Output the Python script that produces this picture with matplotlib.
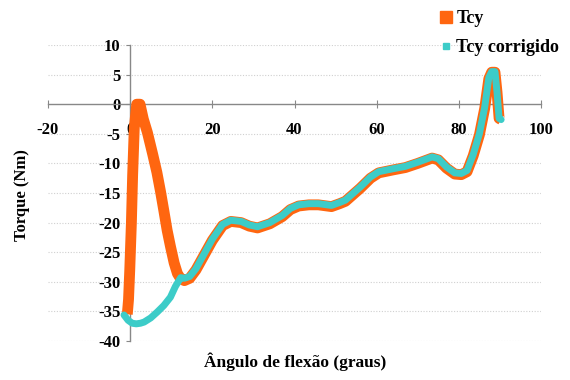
import matplotlib
matplotlib.use("Agg")
import matplotlib.pyplot as plt
from matplotlib.lines import Line2D

# Data
tcy_x = [-0.7, -0.4, -0.1, 0.3, 0.6, 1.0, 1.6, 2.4, 3.2, 4.2, 5.5, 6.5, 7.4, 8.2, 9.0, 9.8, 10.7, 11.5,
         12.3, 13.2, 14.5, 16, 18, 20, 22.5, 24.5, 27, 29, 31, 34, 37, 39, 41, 43.5, 45.8, 49, 51, 52.4,
         56, 58.5, 60.5, 64, 67, 70, 73.5, 75, 77, 79, 80.6, 82, 83.5, 85, 86.3, 87.3, 88, 88.8, 89.3,
         89.8, 90.3]
tcy_y = [-35.5, -33.0, -28.0, -20.0, -12.0, -4.0, 0.0, 0.0, -2.5, -4.8, -8.5, -11.5, -14.8, -18.0, -21.3,
         -24.0, -26.8, -28.6,
         -29.5, -29.8, -29.4, -28.0, -25.5, -23.0, -20.5, -19.8, -20.0, -20.6, -20.9, -20.2, -19.0, -17.8,
         -17.2, -17.0, -17.0, -17.3, -16.8, -16.4, -14.2, -12.5, -11.6, -11.1, -10.7, -10.0, -9.1, -9.4,
         -10.8, -11.8, -11.9, -11.4, -8.7, -5.2, -0.7, 4.3, 5.4, 5.4, 2.0, -2.4, -2.6]

corr_x = [-1.5, -0.5, 0.5, 1.5, 2.5, 3.4, 5.0, 6.6, 8.2, 9.8, 11.0, 12.3, 13.2, 14.5, 16, 18, 20, 22.5,
          24.5, 27, 29, 31, 34, 37, 39, 41, 43.5, 45.8, 49, 51, 52.4, 56, 58.5, 60.5, 64, 67, 70, 73.5,
          75, 77, 79, 80.6, 82, 83.5, 85, 86.3, 87.3, 88, 88.8, 89.3, 89.8, 90.3]
corr_y = [-35.6, -36.5, -37.0, -37.1, -37.0, -36.8, -36.1, -35.1, -34.0, -32.6, -30.8, -29.3, -29.4, -29.1,
          -27.8, -25.3, -22.8, -20.3, -19.6, -19.8, -20.4, -20.7, -20.0, -18.8, -17.6, -17.0, -16.8,
          -16.8, -17.1, -16.6, -16.2, -14.0, -12.3, -11.4, -10.9, -10.5, -9.8, -8.9, -9.2, -10.6, -11.6,
          -11.7, -11.2, -8.5, -5.0, -0.5, 4.5, 5.5, 5.5, 2.0, -2.4, -2.6]

xticks = [-20, 0, 20, 40, 60, 80, 100]
yticks = [-40, -35, -30, -25, -20, -15, -10, -5, 0, 5, 10]

orange = "#FF6610"
cyan = "#3CCCC8"
serif = ["Liberation Serif", "DejaVu Serif"]

fig = plt.figure(figsize=(5.7, 3.8), dpi=100)
ax = fig.add_axes([48/570, 1-341/380, (541-48)/570, (341-45)/380])

ax.set_xlim(-20, 100)
ax.set_ylim(-40, 10)

for yv in yticks:
    if yv != 0:
        ax.axhline(yv, color="#d0d0d0", lw=0.8, ls=(0, (1, 1.5)), zorder=0)

ax.plot(tcy_x, tcy_y, color=orange, lw=7.8, solid_capstyle="butt", solid_joinstyle="round", zorder=3)
ax.plot(corr_x, corr_y, color=cyan, lw=5.0, solid_capstyle="round", solid_joinstyle="round", zorder=4)

for s in ["top", "right"]:
    ax.spines[s].set_visible(False)
ax.spines["left"].set_position(("data", 0))
ax.spines["bottom"].set_position(("data", 0))
for s in ["left", "bottom"]:
    ax.spines[s].set_color("#888888")
    ax.spines[s].set_linewidth(1.0)

ax.set_xticks(xticks)
ax.set_yticks(yticks)
ax.set_xticklabels([str(v) for v in xticks], fontfamily=serif, fontweight="bold", fontsize=12)
ax.set_yticklabels([str(v) for v in yticks], fontfamily=serif, fontweight="bold", fontsize=12)
ax.tick_params(axis="x", direction="inout", length=6, color="#888888", pad=10)
ax.tick_params(axis="y", direction="out", length=3, color="#888888", pad=4)

fig.text(22/570, 1-195/380, "Torque (Nm)", rotation=90, ha="center", va="center",
         fontfamily=serif, fontweight="bold", fontsize=12)
fig.text(295/570, 1-362/380, "Ângulo de flexão (graus)", ha="center", va="center",
         fontfamily=serif, fontweight="bold", fontsize=12.5)

handles = [Line2D([], [], ls="none", marker="s", markersize=9, color=orange),
           Line2D([], [], ls="none", marker="s", markersize=4.5, color=cyan)]
leg = fig.legend(handles, ["Tcy", "Tcy corrigido"], loc="upper left",
                 bbox_to_anchor=(424/570, 1.0 + 6/380), frameon=False, handlelength=0.6,
                 handletextpad=0.3, labelspacing=0.65,
                 prop={"family": serif, "weight": "bold", "size": 13})

fig.savefig("out.png", dpi=100)
